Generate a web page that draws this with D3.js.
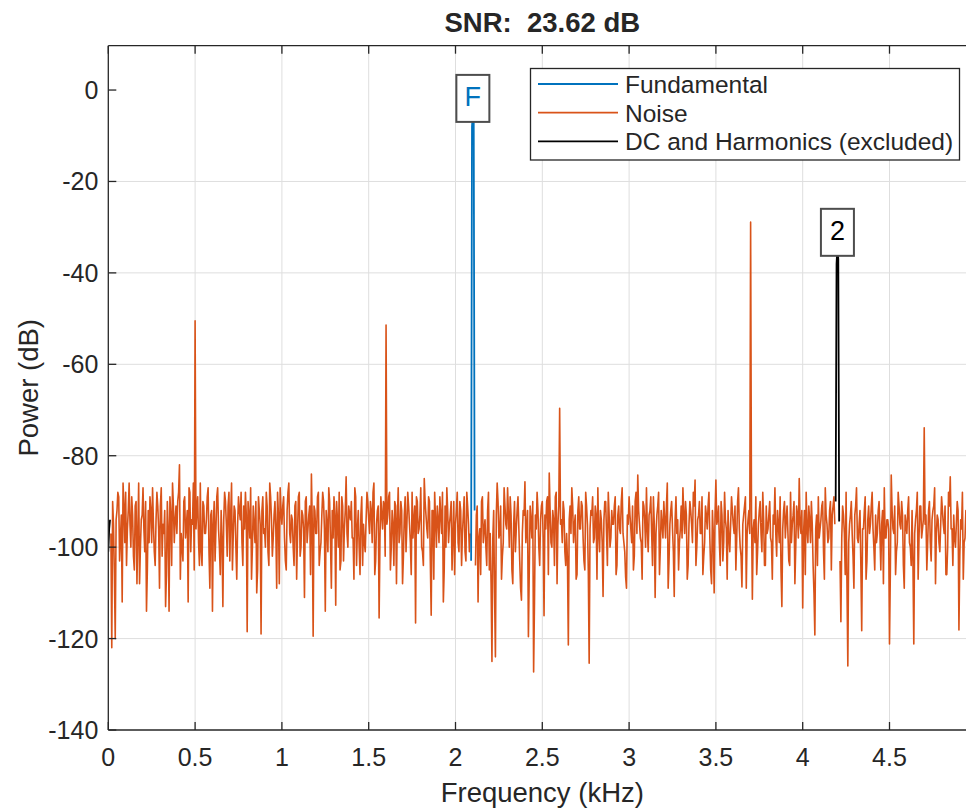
<!DOCTYPE html>
<html><head><meta charset="utf-8">
<script src="https://cdn.jsdelivr.net/npm/d3@7"></script>
<style>
body{margin:0;background:#fff}
svg{display:block}
text{font-family:"Liberation Sans",Arial,Helvetica,sans-serif;fill:#262626}
</style>
</head><body><svg id="c" width="966" height="811"></svg>
<script>
const titleText = "SNR:  23.62 dB";
const xLabel = "Frequency (kHz)";
const yLabel = "Power (dB)";
const xTicks = [0, 0.5, 1, 1.5, 2, 2.5, 3, 3.5, 4, 4.5];
const yTicks = [0, -20, -40, -60, -80, -100, -120, -140];
const binWidthKHz = 0.005;
// noise power at 0.00, 0.01, 0.02 ... kHz
const noiseDbEvenBins = [
null,null,-122,-95,-120,-92,-89,-98,-112,-91,
-88,-96,-86,-100,-93,-105,-90,-97,-108,-94,
-87,-101,-114,-92,-89,-99,-95,-104,-88,-96,
-91,-102,-97,-113,-90,-114,-93,-86,-99,-91,
-90,-82,-97,-103,-89,-95,-112,-88,-94,-86,
-50.5,-92,-99,-86,-104,-91,-97,-89,-101,-93,
-114,-90,-96,-87,-100,-92,-113,-88,-95,-91,
-103,-86,-97,-92,-107,-89,-94,-99,-91,-88,
-118.5,-93,-87,-100,-95,-90,-105,-92,-119,-89,
-96,-88,-101,-86,-94,-98,-90,-109,-93,-87,
-95,-89,-103,-92,-86,-99,-94,-104,-90,-97,
-88,-100,-93,-111,-89,-96,-91,-84,-119.5,-92,
-97,-88,-101,-93,-90,-114,-95,-87,-99,-92,
-89,-112.7,-94,-88,-103,-91,-96,-84.6,-100,-93,
-90,-98,-87,-104,-92,-106,-89,-95,-101,-88,
-94,-90,-99,-86,-103,-92,-115.5,-89,-96,-91,
-51.4,-93,-88,-100,-95,-90,-108,-87,-97,-92,
-102,-89,-95,-91,-99,-88,-94,-116.6,-90,-96,
-87,-101,-85,-93,-98,-90,-114.9,-92,-88,-100,
-94,-89,-97,-112,-91,-87,-99,-93,-105,-90,
-95,-88,-101,-92,-97,-89,-103,-91,-101,null,
null,null,-93,-112,-96,-90,-99,-94,-104,-88,
-97,-125,-92,-124,-86,-98,-91,-102,-87,-95,
-87,-100,-93,-108,-90,-96,-89,-103,-111.6,-92,
-85.7,-96,-119.6,-91,-98,-127.3,-93,-88,-100,-94,
-90,-115,-96,-89,-83.8,-99,-92,-104,-88,-95,
-69.6,-94,-90,-101,-97,-121.4,-91,-87,-99,-93,
-106,-89,-96,-91,-103,-88,-95,-125.4,-92,-89,
-98,-93,-87,-101,-94,-110.8,-90,-97,-88,-100,
-92,-95,-89,-104,-91,-97,-87,-99,-106.5,-93,
-89,-96,-91,-102,-88,-84.2,-95,-99,-90,-94,
-87,-101,-92,-97,-89,-111,-93,-88,-100,-95,
-90,-98,-86,-103,-92,-96,-110.8,-89,-94,-99,
-91,-87,-97,-93,-104,-90,-95,-88,-85.3,-100,
-93,-97,-89,-102,-91,-96,-88,-105,-92,-110,
-85.3,-94,-99,-90,-103,-88,-96,-92,-101,-89,
-95,-91,-98,-87,-100,-108.7,-93,-89,-97,-92,
-28.9,-111.4,-94,-89,-101,-92,-97,-88,-104,-91,
-96,-90,-99,-93,-87,-102,-95,-89,-113,-92,
-98,-91,-103,-88,-95,-90,-100,-93,-85,-97,
-113.3,-92,-88,-99,-94,-90,-104,-119.2,-93,-89,
-96,-91,-101,-87,-95,-98,-90,-93,-89,null,
null,null,-116.3,-91,-97,-88,-126,-95,-90,-102,
-93,-87,-99,-92,-118.3,-96,-89,-103,-91,-95,
-88,-100,-93,-97,-90,-105,-92,-87,-98,-94,
-121.2,-84.2,-96,-91,-101,-88,-95,-90,-104,-93,
-97,-89,-100,-92,-121.2,-94,-88,-98,-91,-96,
-73.9,-93,-99,-90,-103,-92,-87,-97,-94,-101,
-89,-95,-91,-106,-88,-84.6,-96,-93,-100,-90,
-118.1,-94,-88,-99,-92,-97,-90,-103,-93,-89
];
// noise power at 0.005, 0.015, 0.025 ... kHz
const noiseDbOddBins = [
null,-97,-90,-106,-94,-88,-103,-93,-86,-99,
-104,-92,-95,-89,-102,-91,-108,-86,-100,-93,
-96,-90,-105,-99,-92,-87,-101,-94,-91,-109,
-87,-95,-92,-106,-96,-89,-104,-91,-94,-97,
-88,-107,-100,-90,-98,-92,-87,-101,-95,-105,
-96,-89,-104,-101,-90,-97,-94,-87,-109,-92,
-95,-103,-89,-96,-106,-98,-94,-90,-102,-88,
-93,-105,-91,-100,-95,-92,-88,-104,-96,-93,
-90,-98,-107,-91,-99,-110,-89,-95,-92,-97,
-100,-91,-104,-89,-102,-93,-96,-88,-108,-92,
-91,-98,-105,-88,-97,-93,-100,-91,-107,-89,
-102,-92,-96,-90,-99,-93,-106,-95,-91,-97,
-89,-104,-99,-88,-96,-92,-101,-90,-109,-98,
-93,-90,-100,-105,-89,-103,-92,-97,-91,-94,
-98,-107,-89,-96,-100,-93,-104,-99,-94,-90,
-97,-92,-88,-106,-95,-91,-98,-93,-90,-102,
-95,-89,-105,-92,-104,-91,-94,-99,-90,-108,
-93,-101,-88,-95,-106,-98,-91,-89,-97,-93,
-100,-104,-90,-96,-89,-103,-92,-107,-94,-91,
-99,-93,-88,-105,-100,-92,-95,-90,-98,-106,
-92,-99,-90,-104,-93,-101,-88,-95,-97,null,
null,-104,-91,-98,-106,-89,-96,-100,-92,-105,
-108,-98,-110,-93,-90,-97,-107,-99,-91,-96,
-93,-89,-105,-95,-101,-92,-96,-109,-97,-93,
-99,-92,-105,-94,-90,-112,-96,-92,-104,-91,
-98,-93,-90,-106,-92,-100,-94,-89,-108,-91,
-95,-99,-92,-104,-103,-94,-97,-91,-95,-107,
-92,-96,-90,-98,-105,-91,-105,-96,-93,-99,
-91,-107,-97,-92,-99,-94,-90,-104,-93,-98,
-95,-91,-106,-93,-96,-90,-97,-101,-109,-95,
-93,-99,-105,-90,-97,-92,-98,-107,-91,-100,
-96,-93,-89,-104,-95,-97,-91,-106,-92,-98,
-94,-91,-109,-95,-90,-101,-94,-97,-105,-96,
-98,-93,-90,-107,-95,-92,-99,-91,-104,-94,
-90,-97,-106,-99,-93,-91,-98,-108,-97,-93,
-95,-91,-104,-93,-99,-94,-107,-98,-95,-92,
-97,-105,-90,-96,-102,-95,-91,-109,-94,-97,
-92,-96,-99,-106,-95,-90,-101,-94,-104,-97,
-93,-98,-107,-95,-97,-92,-99,-105,-96,-90,
-94,-97,-104,-99,-93,-108,-91,-98,-95,-92,
-97,-106,-96,-91,-99,-95,-110,-96,-104,-98,
-94,-90,-107,-93,-99,-92,-105,-91,-95,null,
null,-103,-98,-93,-106,-108,-99,-93,-97,-109,
-91,-98,-95,-104,-96,-92,-107,-94,-97,-91,
-96,-105,-99,-92,-97,-95,-108,-98,-94,-96,
-105,-92,-97,-106,-99,-91,-96,-93,-109,-95,
-92,-99,-104,-103,-97,-92,-107,-91,-98,-94,
-95,-105,-92,-99,-94,-91,-108,-93,-99,-95,
-92,-97,-106,-100,-91,-96,-104,-98,-95,-92,
-102,-96,-107,-98,-94,-97,-91,-105,-95,-93
];
const fundamentalF = [2.09, 2.095, 2.10, 2.105, 2.11];
const fundamentalDb = [-103, -8, -5, -7, -92];
const dcF = [0, 0.005, 0.01];
const dcDb = [-101, -96, -94];
const harmonicF = [4.19, 4.195, 4.20, 4.205, 4.21];
const harmonicDb = [-90, -38, -34.3, -37, -94.4];
const markerLabels = ["F", "2"];
const markerF = [2.10, 4.20];
const markerDb = [-5, -34.3];
const legendLabels = ["Fundamental", "Noise", "DC and Harmonics (excluded)"];
const seriesColors = ["#0072BD", "#D95319", "#000000"];

const noiseDb = noiseDbEvenBins.flatMap((v, i) => [v, noiseDbOddBins[i]]);

const svg = d3.select("#c");
const L = 108.3, T = 45.7, B = 730, R = 976.3;
const x = d3.scaleLinear().domain([0, 5]).range([L, R]);
const y = d3.scaleLinear().domain([-140, 9.7]).range([B, T]);
const axisColor = "#262626";

// grid
const grid = svg.append("g");
grid.selectAll("line.gx").data(xTicks.slice(1)).enter().append("line")
  .attr("x1", d => x(d)).attr("x2", d => x(d)).attr("y1", T).attr("y2", B)
  .attr("stroke", "#dedede").attr("stroke-width", 1);
grid.selectAll("line.gy").data(yTicks.slice(1, -1)).enter().append("line")
  .attr("x1", L).attr("x2", R).attr("y1", d => y(d)).attr("y2", d => y(d))
  .attr("stroke", "#dedede").attr("stroke-width", 1);

svg.append("clipPath").attr("id", "clip").append("rect")
  .attr("x", L).attr("y", T).attr("width", R - L).attr("height", B - T);
const plot = svg.append("g").attr("clip-path", "url(#clip)");

const noisePts = noiseDb.map((v, i) => [i * binWidthKHz, v]);
const line = d3.line().defined(d => d[1] !== null).x(d => x(d[0])).y(d => y(d[1]));
plot.append("path").datum(noisePts).attr("d", line)
  .attr("fill", "none").attr("stroke", seriesColors[1]).attr("stroke-width", 1.6).attr("stroke-linejoin", "round");
plot.append("path").datum(fundamentalF.map((f, i) => [f, fundamentalDb[i]])).attr("d", line)
  .attr("fill", "none").attr("stroke", seriesColors[0]).attr("stroke-width", 1.8);
plot.append("path").datum(dcF.map((f, i) => [f, dcDb[i]])).attr("d", line)
  .attr("fill", "none").attr("stroke", seriesColors[2]).attr("stroke-width", 1.8);
plot.append("path").datum(harmonicF.map((f, i) => [f, harmonicDb[i]])).attr("d", line)
  .attr("fill", "none").attr("stroke", seriesColors[2]).attr("stroke-width", 1.8);

// axes
const ax = svg.append("g").attr("stroke", axisColor).attr("stroke-width", 1.3);
ax.append("line").attr("x1", L).attr("x2", R).attr("y1", B).attr("y2", B);
ax.append("line").attr("x1", L).attr("x2", R).attr("y1", T).attr("y2", T);
ax.append("line").attr("x1", L).attr("x2", L).attr("y1", T).attr("y2", B);
ax.append("line").attr("x1", R).attr("x2", R).attr("y1", T).attr("y2", B);
const tl = 8;
xTicks.forEach(t => {
  ax.append("line").attr("x1", x(t)).attr("x2", x(t)).attr("y1", B).attr("y2", B - tl);
  ax.append("line").attr("x1", x(t)).attr("x2", x(t)).attr("y1", T).attr("y2", T + tl);
});
yTicks.forEach(t => {
  ax.append("line").attr("x1", L).attr("x2", L + tl).attr("y1", y(t)).attr("y2", y(t));
});
svg.append("g").selectAll("text").data(xTicks).enter().append("text")
  .attr("x", d => x(d)).attr("y", B + 36).attr("text-anchor", "middle")
  .attr("font-size", 25).text(d => d);
svg.append("g").selectAll("text").data(yTicks).enter().append("text")
  .attr("x", L - 10).attr("y", d => y(d)).attr("dy", "0.36em").attr("text-anchor", "end")
  .attr("font-size", 25).text(d => d);

svg.append("text").attr("x", (L + R) / 2).attr("y", 802).attr("text-anchor", "middle")
  .attr("font-size", 27.5).text(xLabel);
svg.append("text").attr("transform", `translate(38,${(T + B) / 2}) rotate(-90)`)
  .attr("text-anchor", "middle").attr("font-size", 27.5).text(yLabel);
svg.append("text").attr("x", (L + R) / 2).attr("y", 32).attr("text-anchor", "middle")
  .attr("font-size", 27.5).attr("font-weight", "bold").style("white-space", "pre").text(titleText);

// markers
markerLabels.forEach((lab, i) => {
  const cx = x(markerF[i]), py = y(markerDb[i]);
  svg.append("rect").attr("x", cx - 16.5).attr("y", py - 38).attr("width", 33).attr("height", 47)
    .attr("fill", "#fff").attr("stroke", "#4d4d4d").attr("stroke-width", 2);
  svg.append("text").attr("x", cx).attr("y", py - 7).attr("text-anchor", "middle")
    .attr("font-size", 27).style("fill", i === 0 ? seriesColors[0] : "#000").text(lab);
});

// legend
const lg = svg.append("g");
lg.append("rect").attr("x", 530.5).attr("y", 68.5).attr("width", 429).attr("height", 91.5)
  .attr("fill", "#fff").attr("stroke", axisColor).attr("stroke-width", 1.3);
legendLabels.forEach((lab, i) => {
  const ly = 84 + i * 28.7;
  lg.append("line").attr("x1", 538).attr("x2", 618).attr("y1", ly).attr("y2", ly)
    .attr("stroke", seriesColors[i]).attr("stroke-width", 1.8);
  lg.append("text").attr("x", 625).attr("y", ly).attr("dy", "0.36em")
    .attr("font-size", 24.5).text(lab);
});
</script>
</body></html>
